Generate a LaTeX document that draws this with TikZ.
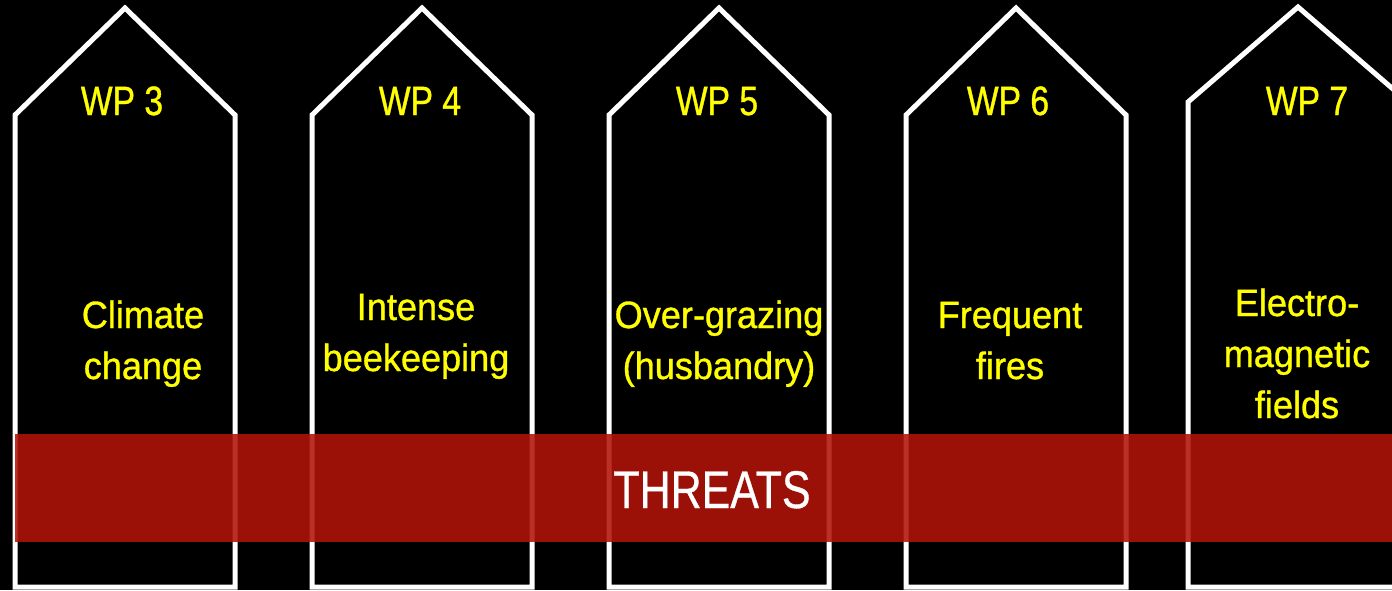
\documentclass[tikz,border=0pt]{standalone}
\usepackage{fontspec}
\setmainfont{Liberation Sans}
\newfontfamily\wpfont[FakeStretch=0.82,FakeBold=0.9]{Liberation Sans}
\newfontfamily\labelfont[FakeStretch=0.95,FakeBold=0.9]{Liberation Sans}
\newfontfamily\bandfont[FakeStretch=0.81,FakeBold=0.6]{Liberation Sans}
\usepackage{tikz}
\usetikzlibrary{positioning}

\definecolor{bandred}{RGB}{178,20,8}
\definecolor{wpyellow}{RGB}{255,255,0}

\tikzset{
	column/.style={draw=white, line width=5pt, line join=miter},
	wplabel/.style={text=wpyellow, anchor=base, inner sep=0pt,
		font=\wpfont\fontsize{41}{46}\selectfont},
	threat/.style={text=wpyellow, anchor=base, inner sep=0pt, align=center,
		font=\labelfont\fontsize{38}{51}\selectfont},
	band/.style={fill=bandred, fill opacity=0.88, draw=none}
}

\begin{document}
\begin{tikzpicture}[x=1pt,y=-1pt]

		% Background
		\fill[black] (0,0) rectangle (1392,590);
		\useasboundingbox (0,0) rectangle (1392,590);

		% Column 1
		\draw[column] (15,587) -- (15,115) -- (125,8) -- (235,115) -- (235,587) -- cycle;
		% Column 2
		\draw[column] (312,587) -- (312,115) -- (422,8) -- (532,115) -- (532,587) -- cycle;
		% Column 3
		\draw[column] (609,587) -- (609,115) -- (719,8) -- (829,115) -- (829,587) -- cycle;
		% Column 4
		\draw[column] (906,587) -- (906,115) -- (1016,8) -- (1126,115) -- (1126,587) -- cycle;
		% Column 5
		\draw[column] (1188,587) -- (1188,102) -- (1298,7) -- (1408,102) -- (1408,587) -- cycle;

		% Work packages
		\node[wplabel] (wp3) at (122,115) {WP 3};
		\node[wplabel] (wp4) at (420,115) {WP 4};
		\node[wplabel] (wp5) at (717,115) {WP 5};
		\node[wplabel] (wp6) at (1008,115) {WP 6};
		\node[wplabel] (wp7) at (1307,115) {WP 7};

		% Threats (base = last line)
		\node[threat] (climate) at (143,379) {Climate\\change};
		\node[threat] (beekeeping) at (416,371) {Intense\\beekeeping};
		\node[threat] (grazing) at (719,379) {Over-grazing\\(husbandry)};
		\node[threat] (fires) at (1010,379) {Frequent\\fires};
		\node[threat] (fields) at (1297,418) {Electro-\\magnetic\\fields};

		% Band
		\fill[band] (15,434) rectangle (1392,542);
		\node[text=white, anchor=base, inner sep=0pt,
			font=\bandfont\fontsize{53}{60}\selectfont] (band) at (712,508) {THREATS};
	\end{tikzpicture}
\end{document}
